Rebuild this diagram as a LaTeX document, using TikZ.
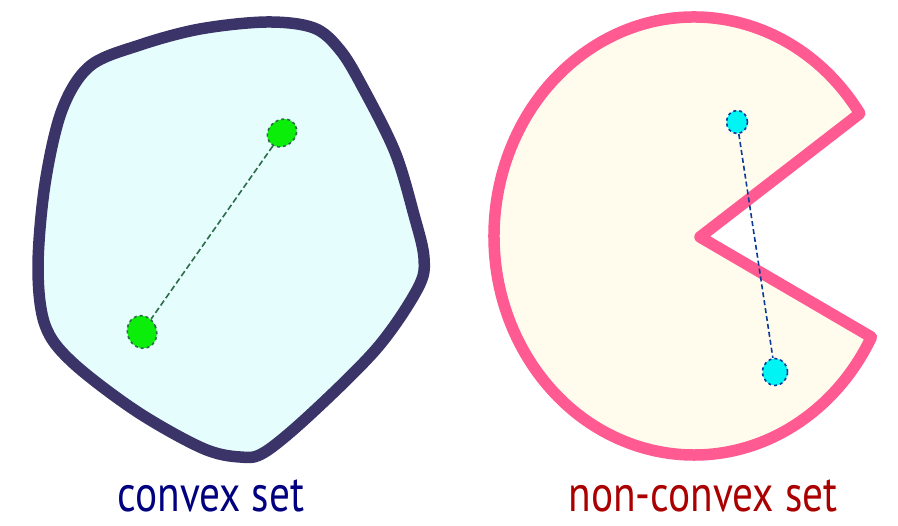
\documentclass[tikz,border=0pt]{standalone}
\usepackage{fontspec}
\setmainfont{PT Sans}[FakeStretch=0.81]
\usetikzlibrary{shapes.geometric}
\definecolor{convexline}{HTML}{3B3468}
\definecolor{convexfill}{HTML}{E5FDFC}
\definecolor{pinkline}{HTML}{FF5A91}
\definecolor{creamfill}{HTML}{FFFCEE}
\definecolor{greendot}{HTML}{0AEE0A}
\definecolor{greenedge}{HTML}{2E6B4A}
\definecolor{cyandot}{HTML}{00F4F4}
\definecolor{blueedge}{HTML}{0A3A9A}
\definecolor{navytext}{HTML}{000080}
\definecolor{redtext}{HTML}{AA0000}
\tikzset{
  setshape/.style={line width=11.5pt, line join=round},
  gdot/.style={ellipse, draw=greenedge, fill=greendot, dashed, line width=1.6pt, inner sep=0pt},
  cdot/.style={ellipse, draw=blueedge, fill=cyandot, dashed, line width=1.6pt, inner sep=0pt},
  lbl/.style={font=\fontsize{51}{51}\selectfont, anchor=base}
}
\begin{document}
\begin{tikzpicture}[x=1pt,y=1pt]
\useasboundingbox (0,0) rectangle (898,526);
% convex set
\draw[setshape, draw=convexline, fill=convexfill]
  plot[smooth cycle, tension=0.55] coordinates {
  (90,460) (140,481) (200,497) (267,504) (314,498) (340,476) (362,440)
  (395,374) (414,311) (424,268) (418,238) (378,179) (313,114) (265,74)
  (240,69) (202,78) (136,115) (72,164) (45,201) (38,259) (45,342) (62,416)};
\node[gdot, minimum width=31pt, minimum height=26pt, rotate=35] (g1) at (282,393) {};
\node[gdot, minimum width=29pt, minimum height=33pt, rotate=20] (g2) at (142,194) {};
\draw[greenedge, line width=1.6pt, dash pattern=on 6pt off 3pt] (g1) -- (g2);
% non-convex set
\draw[setshape, draw=pinkline, fill=creamfill]
  (694,290) ++(34:200 and 219) arc[start angle=34, end angle=332.5, x radius=200, y radius=219]
  -- (700,289) -- cycle;
\node[cdot, minimum width=21pt, minimum height=23pt] (c1) at (737,404) {};
\node[cdot, minimum width=25pt, minimum height=27pt] (c2) at (775,154) {};
\draw[blueedge, line width=1.6pt, dash pattern=on 5pt off 3pt] (c1) -- (c2);
% labels
\node[lbl, text=navytext] (t1) at (211,14) {convex set};
\node[lbl, text=redtext] (t2) at (703,14) {non-convex set};
\end{tikzpicture}
\end{document}
